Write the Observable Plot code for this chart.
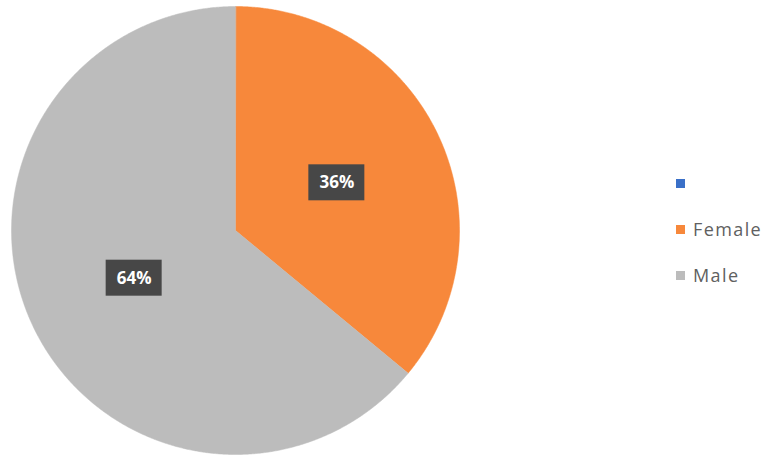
<!DOCTYPE html>
<html>
<head>
<meta charset="utf-8">
<script src="https://cdn.jsdelivr.net/npm/d3@7"></script>
<script src="https://cdn.jsdelivr.net/npm/@observablehq/plot@0.6"></script>
<style>
  html, body { margin: 0; padding: 0; background: #ffffff; }
  #wrap { position: relative; width: 770px; height: 455px; overflow: hidden; }
  #wrap svg { position: absolute; left: 0; top: 0; }
  #legend { position: absolute; left: 676px; top: 0; font-family: "Open Sans", "Noto Sans", sans-serif; font-size: 18px; letter-spacing: 1.4px; color: #606060; }
  .item { position: absolute; left: 0; display: flex; align-items: center; white-space: nowrap; }
  .sw { width: 9px; height: 9px; margin-right: 8px; }
</style>
</head>
<body>
<div id="wrap"><div id="legend"></div></div>
<script>
const categories = ["", "Female", "Male"];
const values = [0, 36, 64];
const labels = ["", "36%", "64%"];
const colors = ["#3a70c8", "#f7883b", "#bcbcbc"];

// build slice polygons in unit coordinates (angle clockwise from top)
const total = d3.sum(values);
const slices = [];
const textRows = [];
let start = 0;
categories.forEach((c, i) => {
  const a0 = start, a1 = start + values[i] / total * 2 * Math.PI;
  start = a1;
  if (values[i] <= 0) return;
  slices.push({cat: c, x: 0, y: 0});
  const n = Math.max(2, Math.ceil((a1 - a0) / 0.005));
  for (let k = 0; k <= n; k++) {
    const a = a0 + (a1 - a0) * k / n;
    slices.push({cat: c, x: Math.sin(a), y: Math.cos(a)});
  }
  const m = (a0 + a1) / 2, r = 0.5;
  textRows.push({cat: c, label: labels[i], x: Math.sin(m) * r, y: Math.cos(m) * r});
});

const R = 224; // pixel radius
const hw = 28 / R, hh = 18 / R; // label box half size in unit coords
textRows.forEach(d => { d.x1 = d.x - hw; d.x2 = d.x + hw; d.y1 = d.y - hh; d.y2 = d.y + hh; });

const chart = Plot.plot({
  width: 770,
  height: 455,
  marginLeft: 11,
  marginRight: 311,
  marginTop: 6,
  marginBottom: 1,
  x: {domain: [-1, 1], axis: null},
  y: {domain: [-1, 1], axis: null},
  color: {domain: categories, range: colors},
  style: {background: "transparent", overflow: "visible"},
  marks: [
    Plot.line(slices, {x: "x", y: "y", z: "cat", fill: "cat", stroke: "cat", strokeWidth: 0.5, curve: "linear-closed"}),
    Plot.rect(textRows, {x1: "x1", x2: "x2", y1: "y1", y2: "y2", fill: "#474747"}),
    Plot.text(textRows, {x: "x", y: "y", text: "label", fill: "white", fontSize: 17, fontWeight: "bold", fontFamily: "Open Sans, Noto Sans, sans-serif"})
  ]
});

document.getElementById("wrap").prepend(chart);

const legendTops = [183, 229, 275];
const legend = document.getElementById("legend");
categories.forEach((c, i) => {
  const item = document.createElement("div");
  item.className = "item";
  item.style.top = (legendTops[i] - 12) + "px";
  item.style.height = "24px";
  const sw = document.createElement("span");
  sw.className = "sw";
  sw.style.background = colors[i];
  const t = document.createElement("span");
  t.textContent = c;
  item.append(sw, t);
  legend.append(item);
});
</script>
</body>
</html>
